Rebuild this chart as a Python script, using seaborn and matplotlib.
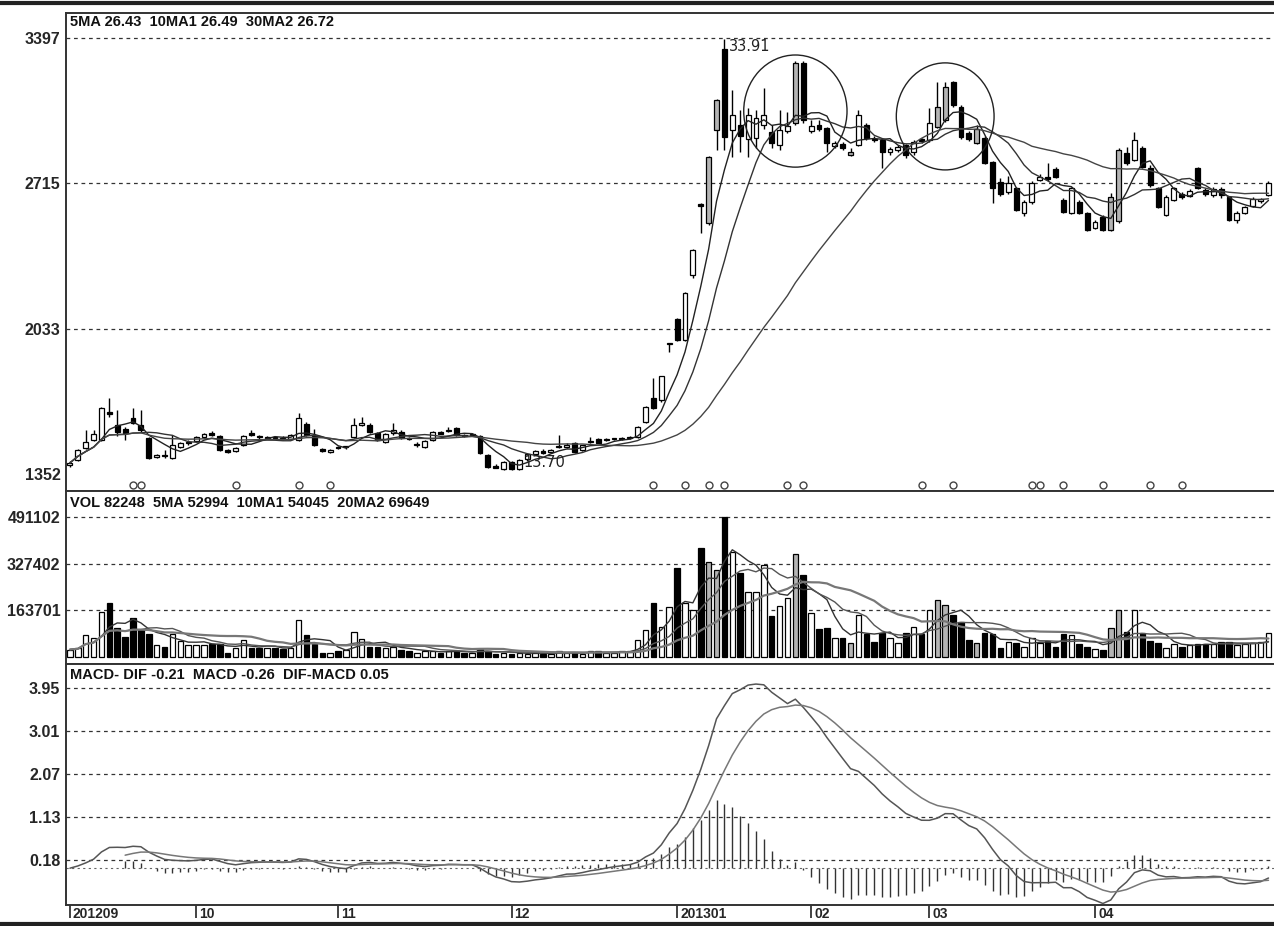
import numpy as np
import pandas as pd
import matplotlib
matplotlib.use("Agg")
import matplotlib.pyplot as plt
import matplotlib.transforms as mtransforms
from matplotlib.patches import Ellipse
from matplotlib.lines import Line2D
import seaborn as sns

# daily prices in cents (the axis is labelled in cents, the headers in yuan)
price_open = [
    1395, 1418, 1474, 1512, 1512, 1643, 1582, 1562, 1614, 1582, 1521, 1432, 1441, 1427, 1479, 1497,
    1507, 1525, 1545, 1530, 1465, 1460, 1488, 1544, 1530, 1522, 1525, 1520, 1518, 1512, 1586, 1530,
    1470, 1455, 1478, 1478, 1525, 1582, 1582, 1544, 1500, 1545, 1549, 1520, 1490, 1480, 1511, 1549,
    1555, 1568, 1532, 1535, 1530, 1441, 1390, 1375, 1408, 1375, 1420, 1445, 1458, 1455, 1480, 1480,
    1497, 1465, 1500, 1515, 1512, 1515, 1518, 1520, 1525, 1596, 1708, 1699, 1962, 2079, 1980, 2285,
    2620, 2529, 2965, 3345, 2965, 2990, 2925, 2930, 2990, 2956, 2895, 2960, 3000, 3280, 2960, 2990,
    2975, 2890, 2900, 2850, 2895, 2990, 2922, 2919, 2860, 2870, 2895, 2860, 2925, 2919, 2980, 3013,
    3190, 3073, 2950, 2905, 2928, 2815, 2720, 2675, 2693, 2576, 2627, 2730, 2745, 2780, 2637, 2576,
    2627, 2576, 2506, 2557, 2496, 2540, 2858, 2825, 2881, 2787, 2693, 2567, 2637, 2665, 2655, 2787,
    2685, 2660, 2690, 2651, 2543, 2576, 2610, 2630, 2660,
]
price_high = [
    1412, 1470, 1558, 1560, 1668, 1710, 1652, 1570, 1662, 1652, 1525, 1446, 1465, 1535, 1502, 1512,
    1530, 1545, 1555, 1535, 1470, 1478, 1535, 1560, 1535, 1530, 1532, 1528, 1540, 1638, 1595, 1565,
    1475, 1468, 1485, 1485, 1614, 1620, 1590, 1548, 1545, 1590, 1558, 1525, 1502, 1510, 1552, 1555,
    1572, 1572, 1538, 1545, 1535, 1445, 1400, 1412, 1412, 1422, 1450, 1465, 1470, 1468, 1535, 1497,
    1500, 1490, 1525, 1520, 1520, 1522, 1525, 1530, 1575, 1670, 1802, 1811, 1968, 2085, 2205, 2408,
    2625, 2845, 3110, 3391, 3153, 3060, 3069, 3060, 3162, 2990, 3060, 3050, 3290, 3290, 3013, 3010,
    2980, 2915, 2910, 2880, 3060, 3000, 2935, 2925, 2885, 2895, 2900, 2920, 2930, 3070, 3190, 3190,
    3195, 3083, 2960, 2990, 2935, 2820, 2740, 2750, 2700, 2635, 2725, 2760, 2810, 2790, 2645, 2700,
    2635, 2580, 2545, 2565, 2670, 2880, 2885, 2956, 2890, 2800, 2700, 2660, 2700, 2675, 2690, 2790,
    2695, 2700, 2700, 2655, 2585, 2610, 2650, 2648, 2725,
]
price_low = [
    1385, 1412, 1468, 1505, 1505, 1620, 1530, 1512, 1585, 1549, 1422, 1425, 1427, 1422, 1474, 1488,
    1502, 1520, 1530, 1460, 1450, 1455, 1485, 1530, 1515, 1515, 1515, 1510, 1512, 1508, 1530, 1483,
    1455, 1450, 1470, 1470, 1520, 1575, 1545, 1505, 1495, 1535, 1515, 1510, 1479, 1476, 1508, 1538,
    1550, 1530, 1525, 1530, 1445, 1380, 1378, 1372, 1372, 1370, 1415, 1440, 1445, 1450, 1475, 1474,
    1452, 1460, 1495, 1495, 1508, 1510, 1512, 1515, 1522, 1590, 1655, 1690, 1924, 1975, 1975, 2270,
    2482, 2520, 2872, 2872, 2839, 2860, 2839, 2880, 2970, 2880, 2872, 2950, 2990, 3000, 2950, 2960,
    2860, 2880, 2870, 2845, 2890, 2920, 2910, 2787, 2850, 2860, 2835, 2850, 2905, 2910, 2975, 3005,
    3075, 2925, 2915, 2900, 2805, 2623, 2655, 2665, 2585, 2560, 2620, 2725, 2725, 2740, 2575, 2570,
    2570, 2490, 2500, 2490, 2490, 2530, 2800, 2820, 2785, 2700, 2600, 2560, 2630, 2640, 2650, 2690,
    2655, 2650, 2645, 2540, 2530, 2570, 2605, 2625, 2655,
]
price_close = [
    1404, 1465, 1502, 1540, 1662, 1634, 1549, 1545, 1591, 1558, 1427, 1441, 1436, 1488, 1497, 1502,
    1525, 1540, 1535, 1465, 1455, 1472, 1530, 1535, 1525, 1525, 1520, 1515, 1535, 1615, 1535, 1488,
    1460, 1465, 1475, 1480, 1582, 1590, 1549, 1511, 1540, 1560, 1521, 1515, 1492, 1507, 1549, 1540,
    1560, 1535, 1530, 1540, 1450, 1385, 1382, 1408, 1375, 1418, 1445, 1458, 1450, 1462, 1485, 1490,
    1455, 1488, 1505, 1497, 1515, 1518, 1520, 1525, 1572, 1666, 1662, 1811, 1966, 1980, 2201, 2403,
    2608, 2839, 3106, 2933, 3036, 2935, 3036, 3022, 3036, 2905, 2965, 2985, 3280, 3013, 2985, 2970,
    2905, 2905, 2880, 2860, 3036, 2930, 2920, 2862, 2875, 2885, 2850, 2910, 2915, 2998, 3073, 3167,
    3083, 2933, 2925, 2970, 2811, 2693, 2665, 2715, 2590, 2627, 2718, 2745, 2735, 2745, 2580, 2693,
    2576, 2496, 2534, 2496, 2651, 2872, 2811, 2919, 2792, 2708, 2604, 2651, 2693, 2650, 2680, 2693,
    2665, 2690, 2660, 2543, 2576, 2604, 2640, 2640, 2715,
]
# volume in thousands of shares
volume_k = [
    25, 30, 77, 66, 158, 189, 102, 70, 137, 95, 81, 42, 35, 81, 55, 42,
    40, 42, 46, 46, 14, 32, 60, 32, 30, 32, 30, 28, 32, 130, 77, 46,
    14, 14, 18, 22, 88, 63, 35, 35, 32, 35, 25, 18, 14, 18, 21, 14,
    18, 21, 14, 14, 28, 18, 10, 14, 10, 14, 10, 14, 10, 10, 18, 14,
    14, 10, 21, 18, 14, 14, 18, 21, 60, 95, 189, 105, 175, 312, 189, 165,
    382, 333, 305, 491.1, 368, 294, 228, 228, 322, 144, 179, 207, 361, 287, 154, 98,
    102, 67, 67, 49, 147, 81, 53, 84, 67, 49, 84, 105, 81, 165, 200, 182,
    147, 123, 60, 49, 84, 81, 32, 53, 49, 35, 67, 49, 56, 35, 81, 77,
    46, 35, 28, 25, 102, 165, 88, 165, 84, 56, 49, 32, 46, 35, 42, 46,
    46, 46, 53, 53, 40, 45, 48, 52, 82.2,
]
# days printed shaded in the original, signal days marked under the candles
shaded_days = [81, 82, 92, 99, 110, 111, 115, 132, 133]
signal_days = [8, 9, 21, 29, 33, 74, 78, 81, 83, 91, 93, 108, 112, 122, 123, 126, 131, 137, 141]
month_days = [0, 16, 34, 56, 77, 94, 109, 130]
month_labels = ["201209", "10", "11", "12", "201301", "02", "03", "04"]

price_ticks = [1352, 2033, 2715, 3397]
volume_ticks = [163701, 327402, 491102]
macd_ticks = [0.18, 1.13, 2.07, 3.01, 3.95]

price_header = "5MA 26.43  10MA1 26.49  30MA2 26.72"
volume_header = "VOL 82248  5MA 52994  10MA1 54045  20MA2 69649"
macd_header = "MACD- DIF -0.21  MACD -0.26  DIF-MACD 0.05"

df = pd.DataFrame({"open": price_open, "high": price_high, "low": price_low,
                   "close": price_close, "vol": np.array(volume_k) * 1000})
idx = np.arange(len(df))
up = df["close"] >= df["open"]

ma5 = df["close"].rolling(5, min_periods=1).mean()
ma10 = df["close"].rolling(10, min_periods=1).mean()
ma30 = df["close"].rolling(30, min_periods=1).mean()
vma5 = df["vol"].rolling(5, min_periods=1).mean()
vma10 = df["vol"].rolling(10, min_periods=1).mean()
vma20 = df["vol"].rolling(20, min_periods=1).mean()

close_yuan = df["close"] / 100
dif = close_yuan.ewm(span=12, adjust=False).mean() - close_yuan.ewm(span=26, adjust=False).mean()
dea = dif.ewm(span=9, adjust=False).mean()
dea[:7] = np.nan
hist = dif - dea

face = np.where(up, "white", "black").astype(object)
face[shaded_days] = "#b4b4b4"

sns.set_style("white")
plt.rcParams["font.family"] = ["Liberation Sans", "DejaVu Sans"]

W, H = 1274, 926
fig = plt.figure(figsize=(W / 100, H / 100), dpi=100)


def px_axes(left, top, right, bottom):
    return fig.add_axes([left / W, 1 - bottom / H, (right - left) / W, (bottom - top) / H])


ax_p = px_axes(66, 13, 1274, 491)
ax_v = px_axes(66, 491, 1274, 664)
ax_m = px_axes(66, 664, 1274, 905)

dash = (0, (3, 3))
for ax in (ax_p, ax_v, ax_m):
    ax.set_xlim(-0.5, 152.7)
    for s in ("left", "top", "bottom"):
        ax.spines[s].set_color("#333333")
        ax.spines[s].set_linewidth(1.4)
    ax.spines["right"].set_visible(False)
    ax.tick_params(axis="y", length=0, pad=4)
    ax.set_facecolor("white")

# --- price panel
ax_p.vlines(idx, df["low"], df["high"], color="black", lw=1, zorder=2)
body = np.maximum((df["close"] - df["open"]).abs(), 4)
ax_p.bar(idx, body, bottom=np.minimum(df["open"], df["close"]), width=0.62,
         color=face, edgecolor="black", linewidth=0.9, zorder=2)
sns.lineplot(x=idx, y=ma5, ax=ax_p, color="#222222", lw=1, zorder=3)
sns.lineplot(x=idx, y=ma10, ax=ax_p, color="#333333", lw=1, zorder=3)
sns.lineplot(x=idx, y=ma30, ax=ax_p, color="#444444", lw=1, zorder=3)
ax_p.plot(signal_days, [0.013] * len(signal_days), "o", ms=5, mfc="white", mec="#444444",
          mew=1, transform=ax_p.get_xaxis_transform(), zorder=3)
ax_p.add_patch(Ellipse((92.0, 3054), 13.1, 526, fill=False, ec="#222222", lw=1, zorder=4))
ax_p.add_patch(Ellipse((111.0, 3029), 12.4, 502, fill=False, ec="#222222", lw=1, zorder=4))
hi = df["high"].idxmax()
lo = df["low"].idxmin()
ax_p.text(hi + 0.6, df["high"][hi], f"{df['high'][hi] / 100:.2f}", ha="left", va="top",
          fontsize=10.5, family="DejaVu Sans", color="#222222", zorder=5)
ax_p.text(lo + 0.5, df["low"][lo], f"{df['low'][lo] / 100:.2f}", ha="left", va="bottom",
          fontsize=10.5, family="DejaVu Sans", color="#222222", zorder=5)
ax_p.set_ylim(1272, 3514)
ax_p.set_yticks(price_ticks)
ax_p.set_yticklabels([str(t) for t in price_ticks], fontsize=11.5, fontweight="bold")
for t in price_ticks[1:]:
    ax_p.axhline(t, color="#333333", lw=0.9, ls=dash, zorder=1)

# --- volume panel
ax_v.bar(idx, df["vol"], width=0.7, color=face, edgecolor="black", linewidth=0.9, zorder=2)
sns.lineplot(x=idx, y=vma5, ax=ax_v, color="#333333", lw=1, zorder=3)
sns.lineplot(x=idx, y=vma10, ax=ax_v, color="#555555", lw=1, zorder=3)
sns.lineplot(x=idx, y=vma20, ax=ax_v, color="#777777", lw=1.6, zorder=3)
ax_v.set_ylim(-26000, 582600)
ax_v.set_yticks(volume_ticks)
ax_v.set_yticklabels([str(t) for t in volume_ticks], fontsize=11.5, fontweight="bold")
for t in volume_ticks:
    ax_v.axhline(t, color="#333333", lw=0.9, ls=dash, zorder=1)

# --- MACD panel
ax_m.vlines(idx, 0, hist, color="#333333", lw=1, zorder=2)
sns.lineplot(x=idx, y=dif, ax=ax_m, color="#555555", lw=1.1, zorder=3)
sns.lineplot(x=idx, y=dea, ax=ax_m, color="#777777", lw=1.1, zorder=3)
ax_m.set_ylim(-0.807, 4.476)
ax_m.set_yticks(macd_ticks)
ax_m.set_yticklabels([f"{t:.2f}" for t in macd_ticks], fontsize=11.5, fontweight="bold")
for t in macd_ticks:
    ax_m.axhline(t, color="#333333", lw=0.9, ls=dash, zorder=1)
ax_m.axhline(0, color="#666666", lw=0.8, ls=(0, (2, 3)), zorder=1)

for ax in (ax_p, ax_v):
    ax.set_xticks([])
    ax.set_xlabel("")
    ax.set_ylabel("")
ax_m.set_ylabel("")
ax_m.set_xticks(month_days)
ax_m.set_xticklabels(month_labels, fontsize=10, fontweight="bold", ha="left")
ax_m.tick_params(axis="x", bottom=True, direction="out", length=9, width=1.2,
                 color="#222222", pad=-7.5)
# nudge month labels a little to the right of their tick marks
shift = mtransforms.ScaledTranslation(3 / 100, 0, fig.dpi_scale_trans)
for lab in ax_m.get_xticklabels():
    lab.set_transform(lab.get_transform() + shift)
ax_m.set_xlim(-0.5, 152.7)

# --- headers
hdr = dict(fontsize=10.5, fontweight="bold", va="center", ha="left", color="#111111")
fig.text(70 / W, 1 - 22 / H, price_header, **hdr)
fig.text(70 / W, 1 - 503 / H, volume_header, **hdr)
fig.text(70 / W, 1 - 675 / H, macd_header, **hdr)

# outer frame lines of the screenshot
fig.add_artist(Line2D([0, 1], [1 - 3 / H] * 2, transform=fig.transFigure, color="#222222", lw=3))
fig.add_artist(Line2D([0, 1], [2 / H] * 2, transform=fig.transFigure, color="#222222", lw=3))

fig.savefig("out.png", dpi=100, facecolor="white")
